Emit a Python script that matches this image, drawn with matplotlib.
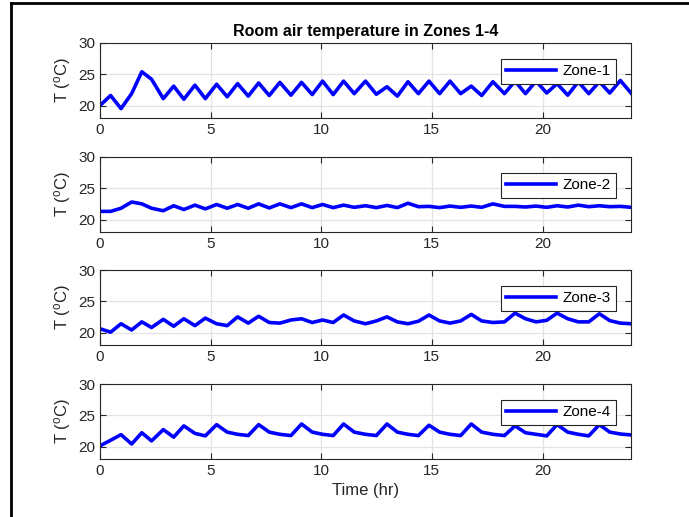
import matplotlib
matplotlib.use('Agg')
import matplotlib.pyplot as plt
from matplotlib.lines import Line2D

plt.rcParams['font.family'] = ['Liberation Sans', 'DejaVu Sans']
plt.rcParams['mathtext.default'] = 'regular'

# hours (same sampling grid for all zones)
t = [0, 0.48, 0.95, 1.43, 1.89, 2.33, 2.86, 3.33, 3.79, 4.29, 4.76, 5.27, 5.75,
     6.22, 6.70, 7.17, 7.65, 8.13, 8.63, 9.11, 9.59, 10.06, 10.54, 11.01, 11.49,
     12.0, 12.49, 12.97, 13.44, 13.92, 14.39, 14.87, 15.35, 15.82, 16.30, 16.78,
     17.25, 17.76, 18.28, 18.76, 19.23, 19.71, 20.19, 20.66, 21.14, 21.62, 22.09,
     22.57, 23.04, 23.52, 24.0]

zone1 = [20.0, 21.6, 19.5, 21.9, 25.4, 24.2, 21.1, 23.1, 21.0, 23.25, 21.1, 23.4, 21.4,
         23.5, 21.5, 23.6, 21.6, 23.7, 21.65, 23.7, 21.75, 23.9, 21.75, 23.9, 21.9,
         23.9, 21.8, 23.0, 21.5, 23.8, 21.9, 23.9, 21.9, 23.9, 21.9, 23.1,
         21.6, 23.8, 21.9, 23.9, 21.9, 23.9, 22.0, 23.5, 21.65, 23.8, 21.9,
         23.8, 22.0, 24.0, 22.0]

zone2 = [21.3, 21.3, 21.8, 22.8, 22.5, 21.8, 21.4, 22.2, 21.6, 22.3, 21.7, 22.4, 21.8,
         22.4, 21.8, 22.5, 21.85, 22.5, 21.9, 22.5, 21.9, 22.4, 21.9, 22.3, 21.95,
         22.2, 21.9, 22.25, 21.9, 22.6, 22.05, 22.1, 21.9, 22.15, 21.95, 22.15,
         21.95, 22.5, 22.1, 22.1, 22.0, 22.15, 21.95, 22.2, 22.0, 22.3, 22.05,
         22.2, 22.05, 22.1, 21.95]

zone3 = [20.6, 20.05, 21.4, 20.4, 21.7, 20.8, 22.1, 21.0, 22.2, 21.1, 22.3, 21.4, 21.1,
         22.5, 21.5, 22.6, 21.6, 21.5, 22.0, 22.2, 21.6, 22.0, 21.6, 22.8, 21.85,
         21.4, 21.85, 22.5, 21.7, 21.4, 21.8, 22.8, 21.85, 21.5, 21.85, 22.9,
         21.85, 21.6, 21.7, 23.1, 22.2, 21.7, 21.95, 23.1, 22.2, 21.7, 21.7,
         23.0, 21.9, 21.5, 21.4]

zone4 = [20.1, 21.0, 21.9, 20.4, 22.2, 20.9, 22.7, 21.5, 23.3, 22.1, 21.7, 23.5, 22.3,
         21.95, 21.75, 23.5, 22.3, 21.95, 21.75, 23.6, 22.3, 21.95, 21.75, 23.6, 22.3,
         21.95, 21.75, 23.6, 22.3, 21.95, 21.75, 23.4, 22.3, 21.95, 21.75, 23.6,
         22.3, 21.95, 21.75, 23.3, 22.2, 21.95, 21.7, 23.5, 22.3, 21.95, 21.7,
         23.5, 22.3, 22.0, 21.85]

zones = [zone1, zone2, zone3, zone4]
names = ['Zone-1', 'Zone-2', 'Zone-3', 'Zone-4']

fig = plt.figure(figsize=(6.89, 5.17), dpi=100)
W, H = 689, 517
left, right = 100, 631
tops = [43, 157, 270, 384]
h = 75

for i in range(4):
    ax = fig.add_axes([left / W, 1 - (tops[i] + h) / H, (right - left) / W, h / H])
    ax.plot(t, zones[i], color='#0000ff', lw=2.6, label=names[i])
    ax.set_xlim(0, 24)
    ax.set_ylim(18, 30)
    ax.set_xticks([0, 5, 10, 15, 20])
    ax.set_yticks([20, 25, 30])
    ax.grid(True, color='#e3e3e3', lw=0.9)
    ax.set_axisbelow(True)
    ax.tick_params(direction='in', top=True, right=True, labelsize=11,
                   colors='#262626', length=4, width=0.8)
    for s in ax.spines.values():
        s.set_color('#262626')
        s.set_linewidth(0.8)
    ax.set_ylabel('T ($^{o}$C)', fontsize=12, color='#262626', labelpad=4)
    leg = ax.legend(loc='upper right', bbox_to_anchor=(0.972, 0.787),
                    borderaxespad=0, fontsize=11, fancybox=False, framealpha=1,
                    edgecolor='#262626', handlelength=3.3, borderpad=0.35,
                    handletextpad=0.4)
    leg.get_frame().set_linewidth(0.8)
    if i == 0:
        ax.set_title('Room air temperature in Zones 1-4', fontsize=11.5,
                     fontweight='bold', pad=5)
    if i == 3:
        ax.set_xlabel('Time (hr)', fontsize=12, color='#262626')

# screenshot frame on left and top
fig.add_artist(Line2D([11 / W, 11 / W], [0, 1 - 3 / H], color='black', lw=2))
fig.add_artist(Line2D([11 / W, 1], [1 - 3 / H, 1 - 3 / H], color='black', lw=2))

fig.savefig('out.png', dpi=100)
